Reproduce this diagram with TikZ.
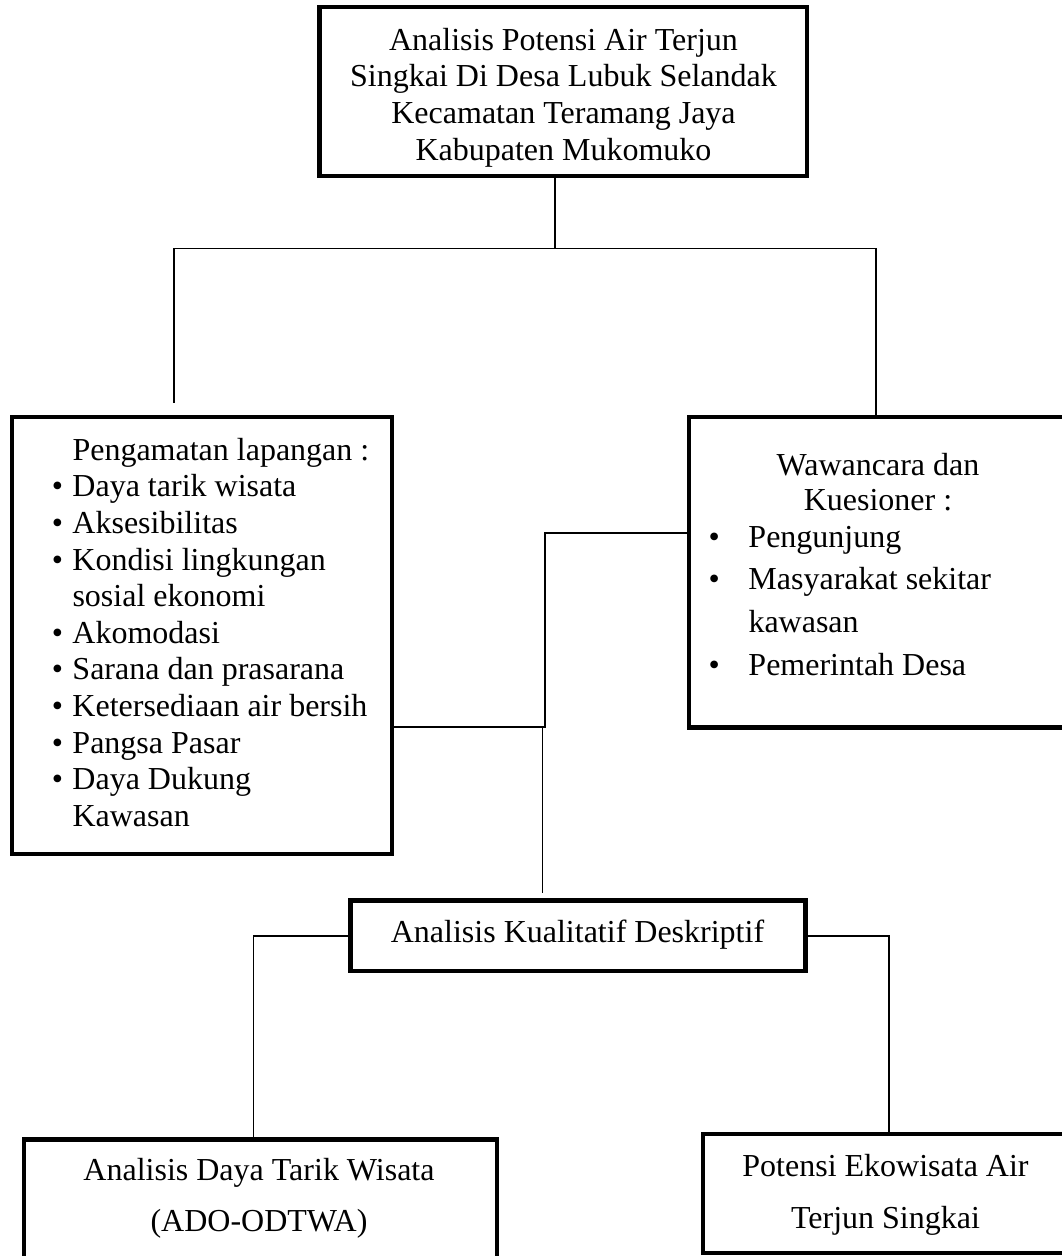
\documentclass[tikz,border=0pt]{standalone}
\usepackage{fontspec}
\setmainfont{Liberation Serif}
\newcommand{\bulA}{\llap{\makebox[20.6pt][l]{•}}}
\newcommand{\bulB}{\llap{\makebox[40pt][l]{•}}}
\newcommand{\fstrut}{\rule{0pt}{24pt}}
\begin{document}
\begin{tikzpicture}[x=1pt,y=-1pt,
  boxshape/.style={draw=black, line width=4.5pt, rectangle, inner sep=0pt, fill=none},
  conn/.style={draw=black, line width=1.5pt},
  txt/.style={inner sep=0pt, text=black},
]
\useasboundingbox (0,0) rectangle (1062,1256);
\fill[white] (0,0) rectangle (1062,1256);

% boxes
\node[boxshape, minimum width=487.5pt, minimum height=169pt] (top) at (563.25,91.5) {};
\node[boxshape, minimum width=380pt, minimum height=437pt] (obs) at (202,635.5) {};
\node[boxshape, minimum width=391pt, minimum height=310.5pt] (waw) at (884.5,572.25) {};
\node[boxshape, minimum width=455pt, minimum height=70.5pt] (mid) at (578,935.75) {};
\node[boxshape, minimum width=473pt, minimum height=150.5pt] (ado) at (260.3,1214.75) {};
\node[boxshape, minimum width=377pt, minimum height=119pt] (pot) at (891.5,1193.5) {};

% texts
\node[txt, anchor=north, align=center, font=\fontsize{32}{36.6}\selectfont] (toptext) at (563.5,26)
  {\fstrut Analisis Potensi Air Terjun\\Singkai Di Desa Lubuk Selandak\\Kecamatan Teramang Jaya\\Kabupaten Mukomuko};
\node[txt, anchor=north west, align=left, font=\fontsize{32}{36.6}\selectfont] (obstext) at (72.3,436)
  {\fstrut Pengamatan lapangan :\\
   \bulA Daya tarik wisata\\
   \bulA Aksesibilitas\\
   \bulA Kondisi lingkungan\\
   sosial ekonomi\\
   \bulA Akomodasi\\
   \bulA Sarana dan prasarana\\
   \bulA Ketersediaan air bersih\\
   \bulA Pangsa Pasar\\
   \bulA Daya Dukung\\
   Kawasan};
\node[txt, anchor=north, align=center, font=\fontsize{32}{35}\selectfont] (wawhead) at (878,451)
  {\fstrut Wawancara dan\\Kuesioner :};
\node[txt, anchor=north west, align=left, font=\fontsize{32}{42.7}\selectfont] (wawlist) at (748.3,523)
  {\fstrut\bulB Pengunjung\\
   \bulB Masyarakat sekitar\\
   kawasan\\
   \bulB Pemerintah Desa};
\node[txt, anchor=north, align=center, font=\fontsize{32}{36.6}\selectfont] (midtext) at (577.5,918)
  {\fstrut Analisis Kualitatif Deskriptif};
\node[txt, anchor=north, align=center, font=\fontsize{32}{50.7}\selectfont] (adotext) at (259,1156.5)
  {\fstrut Analisis Daya Tarik Wisata\\(ADO-ODTWA)};
\node[txt, anchor=north, align=center, font=\fontsize{32}{52}\selectfont] (pottext) at (885.5,1152)
  {\fstrut Potensi Ekowisata Air\\Terjun Singkai};

% junction coordinates
\coordinate (t1) at (555,248.3);
\coordinate (hl) at (174,248.3);
\coordinate (hr) at (876,248.3);
\coordinate (lend) at (174,403);
\coordinate (j1) at (545,727);
\coordinate (j2) at (545,533);
\coordinate (j3) at (542.7,727);
\coordinate (j4) at (542.7,892.7);
\coordinate (bl1) at (253.4,935.75);
\coordinate (br1) at (889,935.75);

% connectors
\draw[conn] (t1 |- top.south) -- (t1);
\draw[conn] (hl) -- (hr);
\draw[conn] (hl) -- (lend);
\draw[conn] (hr) -- (hr |- waw.north);
\draw[conn] (j1 -| obs.east) -- (j1) -- (j2) -- (j2 -| waw.west);
\draw[conn] (j3) -- (j4);
\draw[conn] (mid.west) -- (bl1) -- (bl1 |- ado.north);
\draw[conn] (mid.east) -- (br1) -- (br1 |- pot.north);
\end{tikzpicture}
\end{document}
